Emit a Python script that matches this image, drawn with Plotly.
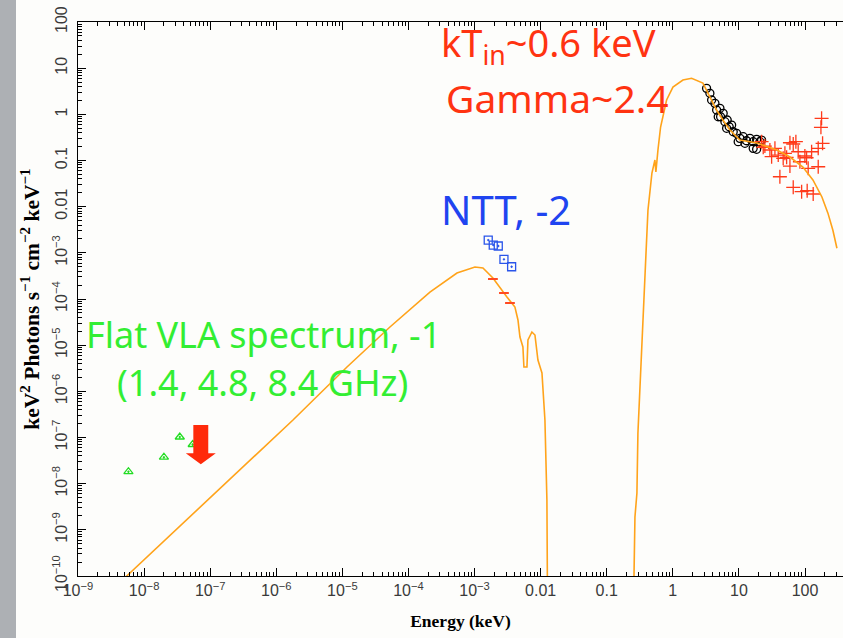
import numpy as np
import plotly.graph_objects as go

# ---------------- data (log10 values) ----------------
# model curve (diskbb + power law, absorbed), log10(E/keV), log10(E^2 N(E))
model_logE = [-9.0, -8.263, -5.747, -4.930, -4.280, -3.675, -3.266, -2.994, -2.873,
              -2.722, -2.510, -2.389, -2.343, -2.313, -2.268, -2.253, -2.207, -2.192,
              -2.132, -2.086, -2.041, -1.980, -1.935, -1.905, -1.890,
              -0.610, -0.573, -0.543, -0.528, -0.498, -0.467, -0.437, -0.407, -0.376,
              -0.346, -0.316, -0.271, -0.256, -0.225, -0.185, -0.094, 0.002, 0.153,
              0.284, 0.455, 0.561, 0.662, 0.758, 0.864, 1.015, 1.272, 1.575, 1.772,
              1.968, 2.120, 2.256, 2.347, 2.422, 2.483]
model_logF = [-10.98, -10.0, -6.621, -5.473, -4.607, -3.849, -3.437, -3.307, -3.329,
              -3.546, -3.957, -4.174, -4.455, -4.823, -5.040, -5.473, -5.473, -4.888,
              -4.715, -4.780, -5.322, -5.603, -6.621, -8.35, -12.0,
              -12.0, -8.722, -8.202, -6.903, -5.906, -4.672, -3.806, -3.047, -2.073,
              -1.640, -1.271, -0.990, -1.250, -0.773, -0.275, 0.310, 0.591, 0.743,
              0.780, 0.678, 0.375, 0.093, -0.123, -0.340, -0.557, -0.622, -0.773, -0.925,
              -1.142, -1.420, -1.790, -2.140, -2.510, -2.900]

# VLA radio points (1.4, 4.8, 8.4 GHz and one hidden behind the arrow)
vla_logE = [-8.237, -7.700, -7.460, -7.265]
vla_logF = [-7.741, -7.427, -6.989, -7.152]

# radio upper limit (red arrow)
ul_logE = [-7.142]
ul_logF = [-7.581]

# NTT optical/IR points
ntt_logE = [-2.793, -2.717, -2.641, -2.555, -2.439]
ntt_logF = [-2.723, -2.831, -2.852, -3.141, -3.301]

# red bars on the optical part of the model
opt_logE = [-2.722, -2.555, -2.464]
opt_logF = [-3.567, -3.870, -4.087]

# X-ray data (black circles)
xr_logE = [0.511, 0.561, 0.587, 0.637, 0.663, 0.713, 0.723, 0.762, 0.788, 0.823,
           0.853, 0.890, 0.914, 0.965, 1.015, 1.065, 1.116, 1.166, 1.216, 1.268,
           1.318, 1.216, 1.268, 1.343, 0.989, 1.091, 0.814, 0.687]
xr_logF = [0.563, 0.455, 0.310, 0.238, 0.093, 0.130, -0.052, 0.022, -0.160, -0.123,
           -0.269, -0.232, -0.377, -0.412, -0.520, -0.485, -0.572, -0.520, -0.593, -0.541,
           -0.593, -0.737, -0.758, -0.557, -0.593, -0.628, -0.303, -0.052]

# hard X-ray data (red crosses)
hx_logE = [2.251, 2.241, 1.862, 1.822, 1.772, 2.266, 2.200, 2.100, 1.897, 1.998,
           2.024, 1.923, 1.772, 2.048, 2.200, 1.620, 1.822, 1.949, 2.033, 2.124,
           1.469, 1.545, 1.495, 1.595, 1.696, 1.670, 1.343, 1.393, 1.722, 1.368]
hx_logF = [-0.087, -0.282, -0.593, -0.643, -0.615, -0.628, -0.737, -0.810, -0.810, -0.903,
           -0.940, -1.027, -1.120, -1.170, -1.135, -1.352, -1.581, -1.676, -1.655, -1.726,
           -0.773, -0.737, -0.918, -0.882, -0.845, -0.953, -0.593, -0.687, -0.931, -0.715]

x_ticks_log = list(range(-9, 3))
x_ticktext = ["10<sup>−9</sup>", "10<sup>−8</sup>", "10<sup>−7</sup>", "10<sup>−6</sup>",
              "10<sup>−5</sup>", "10<sup>−4</sup>", "10<sup>−3</sup>", "0.01", "0.1", "1", "10", "100"]
y_ticks_log = list(range(-10, 3))
y_ticktext = ["10<sup>−10</sup>", "10<sup>−9</sup>", "10<sup>−8</sup>", "10<sup>−7</sup>",
              "10<sup>−6</sup>", "10<sup>−5</sup>", "10<sup>−4</sup>", "10<sup>−3</sup>",
              "0.01", "0.1", "1", "10", "100"]

X_RANGE = [-9, 2.575]
Y_RANGE = [-10, 2]

p = lambda a: np.power(10.0, np.asarray(a, dtype=float))

fig = go.Figure()

# page decoration: grey strip at the left of the slide
PW, PL = 765.0, 78.0
fig.add_shape(type="rect", xref="paper", yref="paper",
              x0=-PL / PW, x1=(16 - PL) / PW, y0=-62 / 554.0, y1=1 + 22 / 554.0,
              fillcolor="#adb0b4", line_width=0, layer="below")

fig.add_trace(go.Scatter(x=p(xr_logE), y=p(xr_logF), mode="markers",
                         marker=dict(symbol="circle-open", size=8, color="black",
                                     line=dict(width=1.3, color="black"))))
fig.add_trace(go.Scatter(x=p(hx_logE), y=p(hx_logF), mode="markers",
                         marker=dict(symbol="cross-thin-open", size=10, color="#ff3a1a",
                                     line=dict(width=1.3, color="#ff3a1a"))))
fig.add_trace(go.Scatter(x=p(model_logE), y=p(model_logF), mode="lines",
                         line=dict(color="#ffa31a", width=1.6)))
fig.add_trace(go.Scatter(x=p(opt_logE), y=p(opt_logF), mode="markers",
                         marker=dict(symbol="line-ew-open", size=7, color="#ff4a22",
                                     line=dict(width=2, color="#ff4a22"))))
fig.add_trace(go.Scatter(x=p(ntt_logE), y=p(ntt_logF), mode="markers",
                         marker=dict(symbol="square-open-dot", size=8, color="#2a55ea",
                                     line=dict(width=1.3, color="#2a55ea"))))
fig.add_trace(go.Scatter(x=p(vla_logE), y=p(vla_logF), mode="markers",
                         marker=dict(symbol="triangle-up-open-dot", size=8, color="#22dd22",
                                     line=dict(width=1.3, color="#22dd22"))))

# upper-limit arrow built around the limit value (sizes in decades)
hw, hh, sw, sl = 0.227, 0.238, 0.113, 0.613
e0, f0 = ul_logE[0], ul_logF[0]
arr_e = [e0, e0 - hw, e0 - sw, e0 - sw, e0 + sw, e0 + sw, e0 + hw, e0]
arr_f = [f0, f0 + hh, f0 + hh, f0 + hh + sl, f0 + hh + sl, f0 + hh, f0 + hh, f0]
fig.add_trace(go.Scatter(x=p(arr_e), y=p(arr_f), mode="lines", fill="toself",
                         fillcolor="#ff2a0a", line=dict(width=0, color="#ff2a0a")))

minor_x = [m * 10.0 ** n for n in range(-9, 3) for m in range(2, 10) if m * 10.0 ** n < 10 ** 2.575]
minor_y = [m * 10.0 ** n for n in range(-10, 2) for m in range(2, 10)]

tickfont = dict(family="Liberation Sans, Arial, sans-serif", size=16, color="#3a3a3a")
xtitlefont = dict(family="Liberation Serif, DejaVu Serif, serif", size=17.5, color="black")
ytitlefont = dict(family="Liberation Serif, DejaVu Serif, serif", size=21.5, color="black")

fig.update_xaxes(type="log", range=X_RANGE, showgrid=False, zeroline=False,
                 showline=True, linecolor="black", linewidth=1.2, mirror="ticks",
                 ticks="inside", ticklen=8, tickwidth=1.2, tickcolor="black",
                 tickvals=p(x_ticks_log), ticktext=x_ticktext, tickfont=tickfont,
                 minor=dict(ticks="inside", ticklen=4, tickwidth=1, tickcolor="black",
                            tickvals=minor_x, showgrid=False),
                 title=dict(text="<b>Energy (keV)</b>", font=xtitlefont, standoff=16))
fig.update_yaxes(type="log", range=Y_RANGE, showgrid=False, zeroline=False,
                 showline=True, linecolor="black", linewidth=1.2, mirror=False,
                 ticks="inside", ticklen=8, tickwidth=1.2, tickcolor="black",
                 tickvals=p(y_ticks_log), ticktext=y_ticktext, tickfont=tickfont,
                 tickangle=-90, ticklabelstandoff=4,
                 minor=dict(ticks="inside", ticklen=4, tickwidth=1, tickcolor="black",
                            tickvals=minor_y, showgrid=False),
                 title=dict(text="<b>keV<sup>2</sup> Photons s<sup>−1</sup> cm<sup>−2</sup> keV<sup>−1</sup></b>",
                            font=ytitlefont, standoff=4))

lab = "Comic Sans MS, Noto Sans, sans-serif"
def px(x):
    return (x - 78) / 765.0
def py(y):
    return (576 - y) / 554.0

anns = [
    ("kT<sub>in</sub>~0.6 keV", 439, 44, "#ff3311", 38),
    ("Gamma~2.4", 444, 98, "#ff3311", 39),
    ("NTT, -2", 439, 209, "#1f44f0", 40),
    ("Flat VLA spectrum, -1", 84, 334, "#33ee33", 36),
    ("(1.4, 4.8, 8.4 GHz)", 115, 382, "#33ee33", 36),
]
for t, x, y, c, s in anns:
    fig.add_annotation(text=t, x=px(x), y=py(y), xref="paper", yref="paper",
                       xanchor="left", yanchor="middle", showarrow=False,
                       font=dict(family=lab, size=s, color=c))

fig.update_layout(width=843, height=638, margin=dict(l=78, r=0, t=22, b=62),
                  paper_bgcolor="#fdfdfb", plot_bgcolor="#fdfdfb",
                  showlegend=False)

fig.write_html("out.html")
